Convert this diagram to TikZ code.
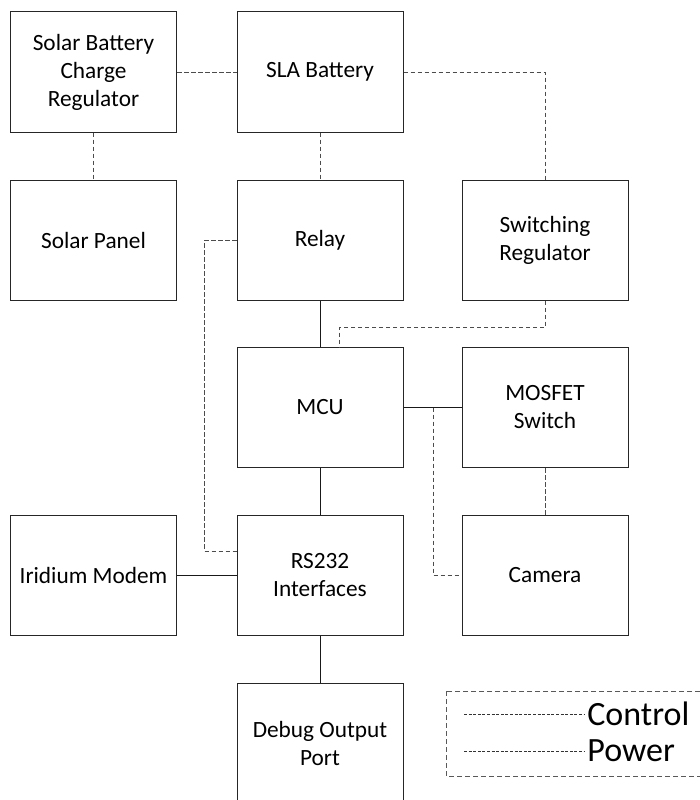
\documentclass[tikz,border=0pt]{standalone}
\usepackage{fontspec}
\setmainfont{Carlito}
\usetikzlibrary{calc}
\tikzset{
  blk/.style={draw=black!85,line width=1pt,minimum width=166pt,minimum height=120pt,
    align=center,inner sep=2pt,font=\fontsize{23.3}{28}\selectfont},
  pwr/.style={draw=black!70,line width=0.9pt,dash pattern=on 4.5pt off 2.5pt},
  sig/.style={draw=black!90,line width=0.9pt},
  legbox/.style={draw=black!65,line width=1pt,dash pattern=on 5pt off 3pt},
  legline/.style={draw=black!80,line width=0.7pt,dash pattern=on 3pt off 1.6pt}
}
\begin{document}
\begin{tikzpicture}[x=1pt,y=-1pt]
				\useasboundingbox (0,0) rectangle (700,800);
				% blocks
				\node[blk] (sbcr) at (93.5,72) {Solar Battery\\Charge\\Regulator};
				\node[blk] (sla) at (320,72) {SLA Battery};
				\node[blk] (panel) at (93.5,240) {Solar Panel};
				\node[blk] (relay) at (320,240) {Relay};
				\node[blk] (swreg) at (545,240) {Switching\\Regulator};
				\node[blk] (mcu) at (320,407.5) {MCU};
				\node[blk] (mosfet) at (545,407.5) {MOSFET\\Switch};
				\node[blk] (modem) at (93.5,575) {Iridium Modem};
				\node[blk] (rs232) at (320,575) {RS232\\Interfaces};
				\node[blk] (cam) at (545,575) {Camera};
				\node[blk] (debug) at (320,743) {Debug Output\\Port};
				% dashed links
				\draw[pwr] (sbcr) -- (sla);
				\draw[pwr] (sbcr) -- (panel);
				\draw[pwr] (sla) -- (relay);
				\draw[pwr] (sla.east) -| (swreg.north);
				\draw[pwr] (relay.west) -- ++(-32,0) |- ([yshift=24pt]rs232.west);
				\draw[pwr] (swreg.south) -- ++(0,27) -| ([xshift=19pt]mcu.north);
				\draw[pwr] (mosfet) -- (cam);
				\coordinate (tap) at (433,407.5);
				\draw[pwr] (tap) |- (cam.west);
				% solid links
				\draw[sig] (relay) -- (mcu);
				\draw[sig] (mcu) -- (mosfet);
				\draw[sig] (mcu) -- (rs232);
				\draw[sig] (rs232) -- (debug);
				\draw[sig] (modem) -- (rs232);
				% legend
				\draw[legbox] (446,691) rectangle (720,776);
				\draw[legline] (464,714) -- (585,714) node[right,inner sep=2pt,font=\fontsize{34}{40}\selectfont] (legctl) {Control};
				\draw[legline] (464,751) -- (585,751) node[right,inner sep=2pt,font=\fontsize{34}{40}\selectfont] (legpwr) {Power};
			\end{tikzpicture}
\end{document}
